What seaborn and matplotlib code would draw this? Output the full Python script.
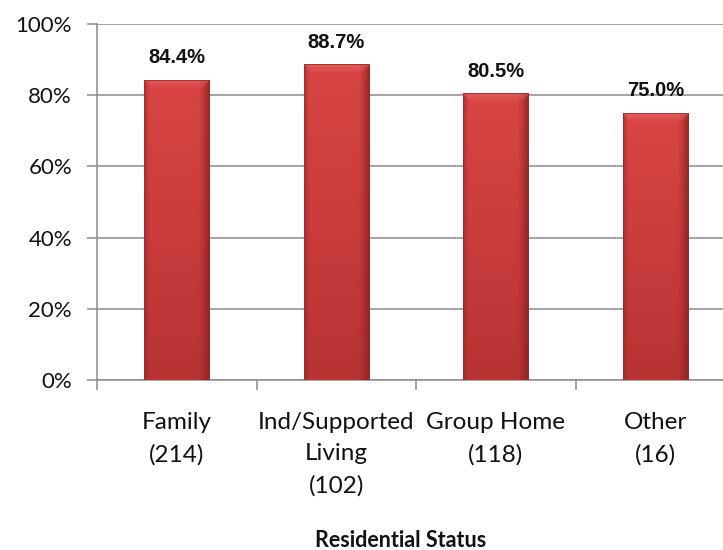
import numpy as np
import pandas as pd
import matplotlib
matplotlib.use("Agg")
import matplotlib.pyplot as plt
import seaborn as sns
from matplotlib.colors import to_rgb

# Share of people by residential status (n in parentheses)
categories = ["Family\n(214)", "Ind/Supported\nLiving\n(102)", "Group Home\n(118)", "Other\n(16)"]
values = [84.4, 88.7, 80.5, 75.0]
value_labels = ["84.4%", "88.7%", "80.5%", "75.0%"]
y_ticks = [0, 20, 40, 60, 80, 100]
y_tick_labels = ["0%", "20%", "40%", "60%", "80%", "100%"]
x_title = "Residential Status"

sns.set_theme(style="white")
plt.rcParams["font.family"] = ["Lato", "DejaVu Sans"]

W, H = 723, 550
fig = plt.figure(figsize=(W / 100, H / 100), dpi=100)
ax_left, ax_bottom, ax_w, ax_h = 97, 170, 638, 356
ax = fig.add_axes([ax_left / W, ax_bottom / H, ax_w / W, ax_h / H])

df = pd.DataFrame({"status": categories, "pct": values})
sns.barplot(data=df, x="status", y="pct", color="#d64242", saturation=1,
            width=0.41, ax=ax, zorder=3)

ax.set_xlim(-0.5, 3.5)
ax.set_ylim(0, 100)

# Bevelled, shaded bar faces
px_per_unit = ax_h / 100.0
top_c = np.array(to_rgb("#da4545"))
bot_c = np.array(to_rgb("#b83333"))
dark = np.array(to_rgb("#8a2020"))
light = np.array(to_rgb("#ea7474"))
ncol = 80
xs = np.linspace(0, 1, ncol)
prof_dark = (np.clip((0.08 - xs) / 0.08, 0, 1) * 0.5
             + np.clip((xs - 0.82) / 0.18, 0, 1) ** 1.3 * 0.85)
for patch in ax.patches:
    x0, y0 = patch.get_x(), patch.get_y()
    w, h = patch.get_width(), patch.get_height()
    hpx = max(int(round(h * px_per_unit)), 2)
    ts = np.linspace(0, 1, hpx)[:, None, None]
    img = top_c[None, None, :] * (1 - ts) + bot_c[None, None, :] * ts
    img = np.repeat(img, ncol, axis=1)
    img = img * (1 - prof_dark[None, :, None]) + dark[None, None, :] * prof_dark[None, :, None]
    bev = 9
    for r in range(min(bev, hpx)):
        t = 1 - r / bev
        lo = int(round(ncol * 0.12 * (r / bev)))
        hi = ncol - lo
        img[r, lo:hi] = img[r, lo:hi] * (1 - 0.5 * t) + light * 0.5 * t
    im = ax.imshow(img, extent=[x0, x0 + w, y0, y0 + h], aspect="auto",
                   origin="upper", zorder=3, interpolation="bilinear")
    im.set_clip_path(patch)
    patch.set_facecolor("none")
    patch.set_edgecolor("#9c2d2d")
    patch.set_linewidth(0.6)
    patch.set_zorder(4)

# Value labels above the bars
for i, (v, lab) in enumerate(zip(values, value_labels)):
    ax.annotate(lab, (i, v), xytext=(0, 12), textcoords="offset points",
                ha="center", va="baseline", fontsize=14.5, fontweight="bold",
                family=["Liberation Sans", "DejaVu Sans"], color="#111111", zorder=5)

# Axes styling
grid_c = "#8c8c8c"
ax.set_yticks(y_ticks)
ax.set_yticklabels(y_tick_labels, fontsize=16, color="#111111")
ax.yaxis.grid(True, color=grid_c, linewidth=1.1, zorder=0)
ax.xaxis.grid(False)
for s in ("top", "right"):
    ax.spines[s].set_visible(False)
ax.spines["left"].set_color(grid_c)
ax.spines["bottom"].set_color(grid_c)
ax.spines["left"].set_linewidth(1.1)
ax.spines["bottom"].set_linewidth(1.1)
ax.tick_params(axis="y", length=7, width=1.1, color=grid_c, pad=11, left=True)

ax.set_xticks([0, 1, 2, 3])
ax.set_xticklabels(categories, fontsize=17.5, color="#111111", linespacing=1.62,
                   va="top")
ax.set_xticks([-0.5, 0.5, 1.5, 2.5, 3.5], minor=True)
ax.tick_params(axis="x", which="major", length=0, pad=23)
ax.tick_params(axis="x", which="minor", length=7, width=1.1, color=grid_c,
               bottom=True, direction="out")
ax.set_xlabel("")
ax.set_ylabel("")

fig.text(401 / W, 1 - 547 / H, x_title, ha="center", va="baseline",
         fontsize=15.5, fontweight="bold", color="#111111")

fig.savefig("out.png", dpi=100)
